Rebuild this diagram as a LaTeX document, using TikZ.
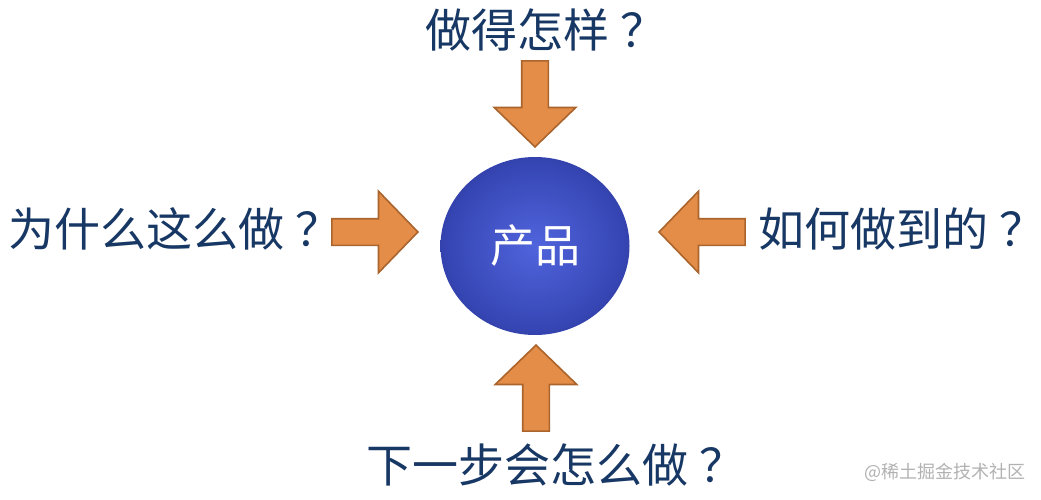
\documentclass[tikz,border=0pt]{standalone}
\usepackage{fontspec}
\setmainfont{Noto Sans CJK SC}
\usepackage{tikz}
\usetikzlibrary{shapes.geometric,shapes.arrows}
\definecolor{qblue}{RGB}{23,55,100}
\definecolor{afill}{RGB}{228,141,72}
\definecolor{adraw}{RGB}{170,100,44}
\definecolor{ballin}{RGB}{80,100,220}
\definecolor{ballmid}{RGB}{54,70,180}
\definecolor{ballrim}{RGB}{34,44,128}
\definecolor{balledge}{RGB}{25,30,96}
\definecolor{ballout}{RGB}{18,22,70}
\definecolor{markgray}{RGB}{178,178,178}
\pgfdeclareradialshading{prodball}{\pgfpoint{0bp}{0bp}}{color(0bp)=(ballin); color(23bp)=(ballmid); color(37bp)=(ballrim); color(46bp)=(balledge); color(50bp)=(ballout)}
\newcommand{\qmark}{\hspace{0.25em}？\hspace{-0.45em}}

\begin{document}
\begin{tikzpicture}[x=1pt,y=-1pt]
    % Setup the styles for the arrows and the questions
        \tikzset{arrow style/.style={single arrow,
                                     anchor=tip,
                                     minimum height=86pt,
                                     inner xsep=0pt,
                                     inner ysep=12.5pt,
                                     single arrow head extend=27.5pt,
                                     single arrow tip angle=92,
                                     line width=1.6pt,
                                     draw=adraw,
                                     fill=afill},
                 question style/.style={inner sep=0pt,
                                        anchor=west,
                                        text=qblue,
                                        font=\fontsize{46}{50}\selectfont}}
        \useasboundingbox[fill=white] (0,0) rectangle (1041,500);
        % Draw the product
        \node[ellipse,
              minimum width=189pt,
              minimum height=178pt,
              inner sep=0pt,
              shading=prodball,
              text=white,
              font=\fontsize{45}{50}\selectfont] at (535,246) (product) {产品};
        % Draw the arrows
        \node[arrow style, rotate=-90] at (535,148) (arrow_top)    {};
        \node[arrow style, rotate=90]  at (536,344) (arrow_bottom) {};
        \node[arrow style]             at (419,232) (arrow_left)   {};
        \node[arrow style, rotate=180] at (658,232) (arrow_right)  {};
        % Draw the questions
        \node[question style] at (425,30)  (question_top)    {做得怎样\qmark};
        \node[question style] at (8,229)   (question_left)   {为什么这么做\qmark};
        \node[question style] at (758,229) (question_right)  {如何做到的\qmark};
        \node[question style] at (366,465) (question_bottom) {下一步会怎么做\qmark};
        \node[inner sep=0pt, anchor=east, text=markgray,
              font=\fontsize{18}{20}\selectfont] at (1026,472) (watermark) {@稀土掘金技术社区};
\end{tikzpicture}
\end{document}
